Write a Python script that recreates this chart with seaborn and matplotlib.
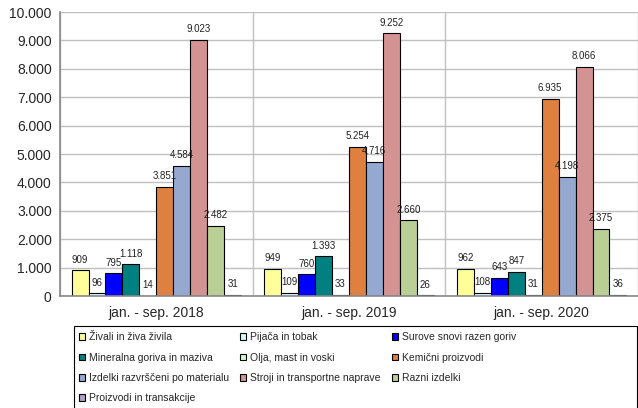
import numpy as np
import pandas as pd
import matplotlib
matplotlib.use("Agg")
import matplotlib.pyplot as plt
import seaborn as sns
from matplotlib.patches import Patch, Rectangle
from matplotlib.ticker import FuncFormatter, FixedLocator

# Data
periods = ['jan. - sep. 2018', 'jan. - sep. 2019', 'jan. - sep. 2020']
groups = ['Živali in živa živila', 'Pijača in tobak', 'Surove snovi razen goriv',
          'Mineralna goriva in maziva', 'Olja, mast in voski', 'Kemični proizvodi',
          'Izdelki razvrščeni po materialu', 'Stroji in transportne naprave',
          'Razni izdelki', 'Proizvodi in transakcije']
v2018 = [909, 96, 795, 1118, 14, 3851, 4584, 9023, 2482, 31]
v2019 = [949, 109, 760, 1393, 33, 5254, 4716, 9252, 2660, 26]
v2020 = [962, 108, 643, 847, 31, 6935, 4198, 8066, 2375, 36]
colors = ['#FFFF99', '#CCFFFF', '#0000FF', '#008080', '#CCFFCC',
          '#DD8040', '#95A9D0', '#D39393', '#B9CF96', '#B0A0C8']

rows = []
for p, vals in zip(periods, [v2018, v2019, v2020]):
    for g, v in zip(groups, vals):
        rows.append([p, g, v])
df = pd.DataFrame(rows, columns=['Period', 'Group', 'Value'])

sns.set_style('white')
plt.rcParams['font.family'] = ['Liberation Sans', 'DejaVu Sans']

fig = plt.figure(figsize=(6.38, 4.08), dpi=100)
ax = fig.add_axes([60/638, 1-296/408, 1-60/638, 284/408])

sns.barplot(data=df, x='Period', y='Value', hue='Group', hue_order=groups,
            palette=colors, saturation=1, width=0.88, edgecolor='black',
            linewidth=0.8, legend=False, ax=ax)

ax.set_ylim(0, 10000)
ax.set_xlim(-0.5, 2.5)
ax.set_yticks(np.arange(0, 10001, 1000))
ax.yaxis.set_major_formatter(FuncFormatter(lambda v, _: f'{int(v):,}'.replace(',', '.')))
ax.xaxis.set_minor_locator(FixedLocator([-0.5, 0.5, 1.5, 2.5]))
ax.tick_params(axis='x', which='major', length=0, labelsize=10, pad=7)
ax.tick_params(axis='x', which='minor', length=5, color='#888888', direction='out')
ax.tick_params(axis='y', length=4, color='#888888', labelsize=10, direction='out', pad=2)
ax.grid(axis='y', color='#C0C0C0', linewidth=1)
ax.grid(axis='x', which='minor', color='#C0C0C0', linewidth=1)
ax.set_axisbelow(True)
ax.set_xlabel('')
ax.set_ylabel('')
for s in ['top', 'right']:
    ax.spines[s].set_visible(False)
for s in ['left', 'bottom']:
    ax.spines[s].set_color('#888888')
    ax.spines[s].set_linewidth(1.2)

# value labels
for cont in ax.containers:
    for bar in cont:
        h = bar.get_height()
        txt = f'{int(h):,}'.replace(',', '.')
        ax.text(bar.get_x() + bar.get_width()/2, h + 200, txt,
                ha='center', va='bottom', fontsize=7, color='#222222')

# legend box
fig.patches.append(Rectangle((74/638, -0.02), 563/638, 0.02 + 1 - 326/408,
                             transform=fig.transFigure, facecolor='white',
                             edgecolor='black', linewidth=0.8, zorder=0))

# legend, one column at a time (row-wise order like the original)
handles = [Patch(facecolor=c, edgecolor='black', linewidth=0.8) for c in colors]
columns = [[0, 3, 6, 9], [1, 4, 7], [2, 5, 8]]
col_x = [79, 240, 392]
for idx, x in zip(columns, col_x):
    leg = fig.legend([handles[i] for i in idx], [groups[i] for i in idx],
                     loc='upper left', bbox_to_anchor=(x/638, 1-332.5/408),
                     ncol=1, fontsize=7.5, frameon=False,
                     handlelength=0.62, handleheight=0.62,
                     handletextpad=0.3, labelspacing=0.98,
                     borderpad=0, borderaxespad=0)

fig.savefig('out.png', dpi=100)
